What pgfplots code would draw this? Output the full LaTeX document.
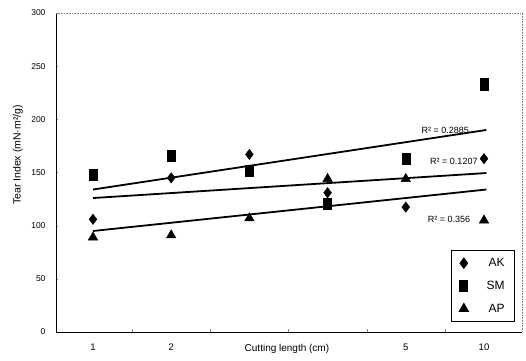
\documentclass[border=0pt]{standalone}
\usepackage{fontspec}
\setmainfont{Liberation Sans}
\usepackage{pgfplots}
\pgfplotsset{compat=1.18}
\begin{document}
\begin{tikzpicture}
\useasboundingbox (-56pt,-28pt) rectangle (470pt,332pt);
\begin{axis}[
  at={(0,0)}, anchor=south west, scale only axis,
  width=466pt, height=319pt,
  xmin=0.527, xmax=6.486, ymin=0, ymax=300,
  clip=false,
  axis x line*=bottom, axis y line*=left,
  axis line style={line width=1pt, -},
  xtick={1,2,3,4,5,6}, xticklabels={1,2,,,5,10},
  major x tick style={draw=none},
  minor xtick={1.5,2.5,3.5,4.5,5.5},
  minor tick length=3pt,
  tick align=inside,
  ytick={0,50,...,300},
  major tick length=2pt,
  /pgf/number format/assume math mode=true,
  xticklabel style={font=\fontsize{9.5}{11}\selectfont, yshift=-8pt},
  yticklabel style={font=\fontsize{8.5}{10}\selectfont, xshift=-7pt},
  ylabel={Tear Index (mN·m²/g)},
  ylabel style={at={(rel axis cs:-0.0815,0.555)}, anchor=center, font=\fontsize{10.5}{12}\selectfont},
  legend style={at={(rel axis cs:0.985,0.031)}, anchor=south east, draw=black, line width=0.8pt,
    font=\fontsize{12}{14}\selectfont, row sep=9pt, inner xsep=8pt, inner ysep=6pt,
    /tikz/every odd column/.append style={column sep=16pt}},
  legend cell align=right,
]
\addplot[only marks, mark=diamond*, mark size=5.2pt, black] coordinates {(1,106)(2,145)(3,167)(4,131)(5,117.5)(6,163)};
\addlegendentry{AK}
\addplot[only marks, mark=square*, mark size=4pt, mark options={yscale=1.4}, black] coordinates {(1,147.6)(2,165.5)(3,152)(4,121)(5,163)(6,233)};
\addlegendentry{SM}
\addplot[only marks, mark=triangle*, mark size=5.5pt, black] coordinates {(1,89)(2,91)(3,107)(4,144)(5,144)(6,105)};
\addlegendentry{AP}
\addplot[black, line width=1.8pt, forget plot] coordinates {(1,134)(6.03,190)};
\addplot[black, line width=1.8pt, forget plot] coordinates {(1,126)(6.03,149.5)};
\addplot[black, line width=1.8pt, forget plot] coordinates {(1,95)(6.03,134)};
\draw[densely dotted, gray, line width=0.6pt] (rel axis cs:0,1) -- (rel axis cs:1,1) -- (rel axis cs:1,0);
\node[anchor=west, font=\fontsize{9}{10}\selectfont, inner sep=0pt] at (axis cs:5.2,190) {R² = 0.2885};
\node[anchor=west, font=\fontsize{9}{10}\selectfont, inner sep=0pt] at (axis cs:5.31,160) {R² = 0.1207};
\node[anchor=west, font=\fontsize{9}{10}\selectfont, inner sep=0pt] at (axis cs:5.28,106) {R² = 0.356};
\node[font=\fontsize{10}{12}\selectfont] at (axis cs:3.48,0) [yshift=-17pt] {Cutting length (cm)};
\end{axis}
\end{tikzpicture}
\end{document}
